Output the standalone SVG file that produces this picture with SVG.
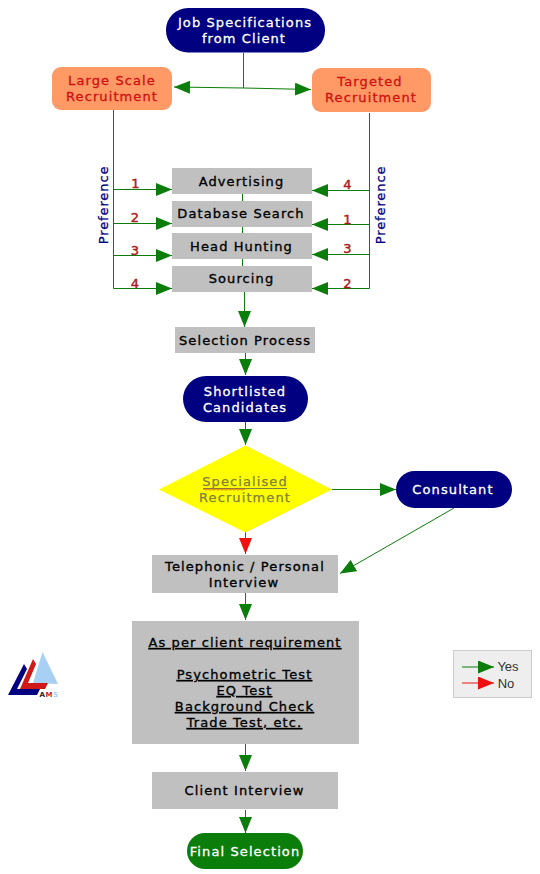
<svg xmlns="http://www.w3.org/2000/svg" width="540" height="874" viewBox="0 0 540 874">
<style>
text{font-family:"DejaVu Sans",Verdana,sans-serif;font-size:13px;text-anchor:middle;letter-spacing:1.1px}
.k{fill:#000;stroke:#000;stroke-width:.35}
.w{fill:#fff;stroke:#fff;stroke-width:.3}
.r{fill:#d01010;stroke:#d01010;stroke-width:.3}
.n{fill:#a82020;stroke:#a82020;stroke-width:.45;font-size:13px}
.p{fill:#000080;stroke:#000080;stroke-width:.3;font-size:13px;letter-spacing:.9px}
.box{fill:#c0c0c0}
.nav{fill:#000080}
.org{fill:#ff9966}
.u{text-decoration:underline}
#connectors line{stroke:#0b7d0b;stroke-width:1;fill:none}
#connectors line.a{marker-end:url(#g)}
</style>
<defs>
<marker id="g" markerUnits="userSpaceOnUse" markerWidth="17" markerHeight="13" refX="16" refY="6.5" orient="auto"><path d="M0 0L16 6.5L0 13Z" fill="#0b7d0b"/></marker>
<marker id="rm" markerUnits="userSpaceOnUse" markerWidth="17" markerHeight="13" refX="16" refY="6.5" orient="auto"><path d="M0 0L16 6.5L0 13Z" fill="#f01010"/></marker>
</defs>
<rect width="540" height="874" fill="#fff"/>
<g id="connectors">
<line x1="243.5" y1="53" x2="243.5" y2="88"/>
<line class="a" x1="243.5" y1="88" x2="174" y2="87"/>
<line class="a" x1="243.5" y1="88" x2="311" y2="89.5"/>
<line x1="113.5" y1="110" x2="113.5" y2="288.5"/>
<line x1="369.5" y1="113" x2="369.5" y2="288.5"/>
<line class="a" x1="113.5" y1="189.5" x2="172" y2="189.5"/>
<line class="a" x1="113.5" y1="223.5" x2="172" y2="223.5"/>
<line class="a" x1="113.5" y1="255.5" x2="172" y2="255.5"/>
<line class="a" x1="113.5" y1="288.5" x2="172" y2="288.5"/>
<line class="a" x1="369.5" y1="190.5" x2="312" y2="190.5"/>
<line class="a" x1="369.5" y1="224.5" x2="312" y2="224.5"/>
<line class="a" x1="369.5" y1="254.5" x2="312" y2="254.5"/>
<line class="a" x1="369.5" y1="288.5" x2="312" y2="288.5"/>
<line x1="242.5" y1="194" x2="242.5" y2="201"/>
<line x1="242.5" y1="227" x2="242.5" y2="233"/>
<line x1="242.5" y1="259" x2="242.5" y2="266"/>
<line class="a" x1="244.5" y1="292" x2="244.5" y2="327"/>
<line class="a" x1="245.5" y1="353" x2="245.5" y2="375"/>
<line class="a" x1="245.5" y1="422" x2="245.5" y2="445"/>
<line class="a" x1="332" y1="489.5" x2="396" y2="489.5"/>
<line x1="245.5" y1="532" x2="245.5" y2="554" style="marker-end:url(#rm)"/>
<line class="a" x1="454" y1="508" x2="340" y2="573.5"/>
<line class="a" x1="245.5" y1="593" x2="245.5" y2="620"/>
<line class="a" x1="245.5" y1="744" x2="245.5" y2="771"/>
<line class="a" x1="245.5" y1="810" x2="245.5" y2="833"/>
</g>
<g id="job"><rect class="nav" x="166" y="8" width="159" height="44.5" rx="22"/><text class="w" x="245" y="27">Job Specifications</text><text class="w" x="244" y="43">from Client</text></g>
<g id="large"><rect class="org" x="52" y="67" width="120" height="43" rx="9"/><text class="r" x="112" y="85">Large Scale</text><text class="r" x="112" y="101">Recruitment</text></g>
<g id="targeted"><rect class="org" x="312" y="68" width="119" height="44" rx="9"/><text class="r" x="370" y="86">Targeted</text><text class="r" x="371" y="102">Recruitment</text></g>
<g id="advertising"><rect class="box" x="172" y="168" width="140" height="26"/><text class="k" x="241.500" y="186">Advertising</text></g>
<g id="database"><rect class="box" x="172" y="201" width="140" height="26"/><text class="k" x="241" y="218">Database Search</text></g>
<g id="headhunting"><rect class="box" x="172" y="233" width="140" height="26"/><text class="k" x="241.500" y="251">Head Hunting</text></g>
<g id="sourcing"><rect class="box" x="172" y="266" width="140" height="26"/><text class="k" x="241.500" y="283">Sourcing</text></g>
<g id="pref-left"><text class="p" transform="translate(108 205) rotate(-90)">Preference</text></g>
<g id="pref-right"><text class="p" transform="translate(385 205) rotate(-90)">Preference</text></g>
<g id="rank-left"><text class="n" x="136" y="188">1</text><text class="n" x="135.500" y="222">2</text><text class="n" x="135.500" y="255">3</text><text class="n" x="135.500" y="288">4</text></g>
<g id="rank-right"><text class="n" x="348" y="189">4</text><text class="n" x="348" y="224">1</text><text class="n" x="348" y="253">3</text><text class="n" x="348" y="288">2</text></g>
<g id="selection"><rect class="box" x="175" y="327" width="140" height="26"/><text class="k" x="245" y="345">Selection Process</text></g>
<g id="shortlisted"><rect class="nav" x="183" y="376" width="125" height="46" rx="23"/><text class="w" x="245" y="396">Shortlisted</text><text class="w" x="245" y="412">Candidates</text></g>
<g id="specialised"><path d="M245.500 445.500L332 489.500L245.500 532.500L159 489.500Z" fill="#ffff00"/><text x="245" y="486" fill="#808040" stroke="#808040" stroke-width=".25">Specialised</text><text x="245" y="502" fill="#808040" stroke="#808040" stroke-width=".25">Recruitment</text><path d="M203 488.500h84" stroke="#808040" stroke-width="1" fill="none"/><path d="M203 489.500q1-1.500 2 0t2 0 2 0 2 0 2 0 2 0 2 0 2 0 2 0 2 0 2 0 2 0 2 0 2 0 2 0 2 0 2 0 2 0 2 0 2 0 2 0" fill="none" stroke="#d84010" stroke-width=".8"/></g>
<g id="consultant"><rect class="nav" x="396" y="471" width="116" height="37" rx="18.500"/><text class="w" x="453" y="494">Consultant</text></g>
<g id="telephonic"><rect class="box" x="152" y="555" width="186" height="38"/><text class="k" x="245" y="571">Telephonic / Personal</text><text class="k" x="244" y="587">Interview</text></g>
<g id="requirements"><rect class="box" x="132" y="621" width="227" height="123"/>
<text class="k u" x="245" y="647">As per client requirement</text>
<text class="k u" x="244.500" y="679">Psychometric Test</text>
<text class="k u" x="244.500" y="695">EQ Test</text>
<text class="k u" x="244.500" y="711">Background Check</text>
<text class="k u" x="244.500" y="727">Trade Test, etc.</text></g>
<g id="client"><rect class="box" x="152" y="772" width="186" height="37"/><text class="k" x="244.500" y="795">Client Interview</text></g>
<g id="final"><rect x="187" y="833" width="116" height="36" rx="18" fill="#0b7d0b"/><text class="w" x="245" y="856">Final Selection</text></g>
<g id="legend"><rect x="453.500" y="650.500" width="78" height="47" fill="#eeeeee" stroke="#cccccc"/>
<line x1="462" y1="667" x2="494" y2="667" stroke="#0b7d0b" style="marker-end:url(#g)"/>
<line x1="462" y1="683" x2="494" y2="683" stroke="#f01010" style="marker-end:url(#rm)"/>
<text x="508" y="671" fill="#333" style="font-family:'Liberation Sans',sans-serif;letter-spacing:0">Yes</text>
<text x="506" y="688" fill="#333" style="font-family:'Liberation Sans',sans-serif;letter-spacing:0">No</text></g>
<g id="logo">
<path d="M33 683L42.500 652L58 684Z" fill="#a8d0f4"/>
<path d="M8 695L24 664L27 669L17 689L40 689L37 695Z" fill="#000080"/>
<path d="M20 689L33 659L36 664L28 683L48 683L45 689Z" fill="#d01818"/>
<text x="49" y="697" style="font-size:7px;font-weight:bold;letter-spacing:.5px"><tspan fill="#223">A</tspan><tspan fill="#d01818">M</tspan><tspan fill="#a8d0f4">S</tspan></text>
</g>
</svg>
